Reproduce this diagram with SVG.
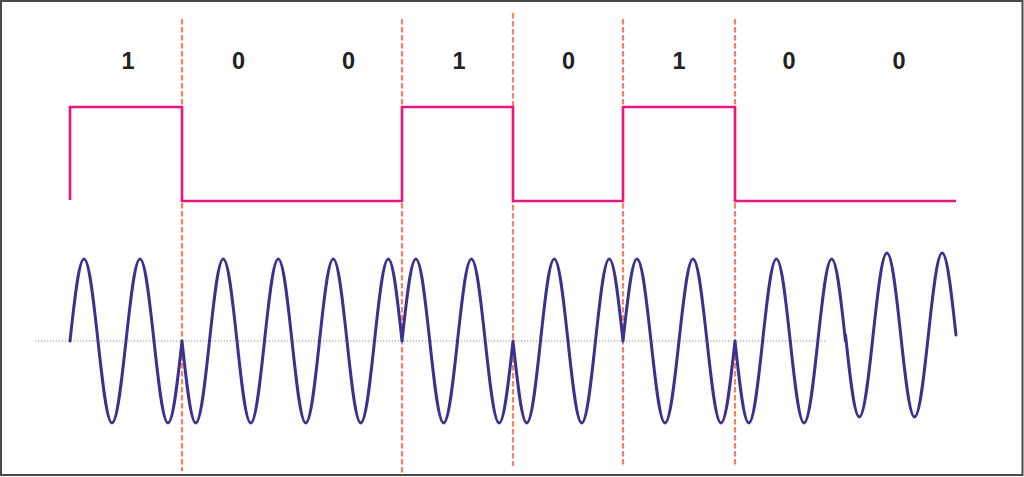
<svg xmlns="http://www.w3.org/2000/svg" width="1024" height="477" viewBox="0 0 1024 477">
<style>
.bit{font-family:"Liberation Sans",Arial,sans-serif;font-weight:bold;font-size:23.5px;fill:#222222;text-anchor:middle}
.sep{stroke:#f4845f;stroke-width:2.2;stroke-dasharray:5.5 2.5;fill:none}
.sq{stroke:#e6177f;stroke-width:2.6;fill:none}
.wave{stroke:#3b3290;stroke-width:3;fill:none;stroke-linejoin:round;stroke-linecap:round}
.axis{stroke:#8a8a8a;stroke-width:1.2;stroke-dasharray:1.2 1.8;fill:none}
</style>
<rect x="1" y="1" width="1021.5" height="474" fill="#ffffff" stroke="#4a4a4a" stroke-width="2"/>
<g id="bits">
<text class="bit" x="128" y="69">1</text>
<text class="bit" x="238.5" y="69">0</text>
<text class="bit" x="348.5" y="69">0</text>
<text class="bit" x="459" y="69">1</text>
<text class="bit" x="568.5" y="69">0</text>
<text class="bit" x="679" y="69">1</text>
<text class="bit" x="789" y="69">0</text>
<text class="bit" x="899" y="69">0</text>
</g>
<g id="separators">
<line class="sep" x1="182" y1="19" x2="182" y2="471"/>
<line class="sep" x1="402" y1="19" x2="402" y2="473"/>
<line class="sep" x1="513" y1="13" x2="513" y2="466"/>
<line class="sep" x1="623" y1="19" x2="623" y2="465"/>
<line class="sep" x1="735" y1="19" x2="735" y2="465"/>
</g>
<g id="digital-signal">
<path class="sq" d="M70,200 V107 H182 V201 H402 V107 H513 V201 H623 V107 H735 V201 H956"/>
</g>
<g id="axis">
<line class="axis" x1="35" y1="341" x2="825" y2="341"/>
</g>
<g id="modulated-signal">
<path class="wave" d="M70,341
c4.68,-43.06 8.96,-82 14,-82 s9.32,38.94 14,82 s8.96,82 14,82 s9.32,-38.94 14,-82 s8.96,-82 14,-82 s9.32,38.94 14,82 s8.96,82 14,82 s9.32,-38.94 14,-82
c4.6,43.06 8.8,82 13.75,82 s9.15,-38.94 13.75,-82 s8.8,-82 13.75,-82 s9.15,38.94 13.75,82
s8.8,82 13.75,82 s9.15,-38.94 13.75,-82 s8.8,-82 13.75,-82 s9.15,38.94 13.75,82
s8.8,82 13.75,82 s9.15,-38.94 13.75,-82 s8.8,-82 13.75,-82 s9.15,38.94 13.75,82
s8.8,82 13.75,82 s9.15,-38.94 13.75,-82 s8.8,-82 13.75,-82 s9.15,38.94 13.75,82
c4.64,-43.06 8.88,-82 13.875,-82 s9.24,38.94 13.875,82 s8.88,82 13.875,82 s9.24,-38.94 13.875,-82 s8.88,-82 13.875,-82 s9.24,38.94 13.875,82 s8.88,82 13.875,82 s9.24,-38.94 13.875,-82
c4.6,43.06 8.8,82 13.75,82 s9.15,-38.94 13.75,-82 s8.8,-82 13.75,-82 s9.15,38.94 13.75,82 s8.8,82 13.75,82 s9.15,-38.94 13.75,-82 s8.8,-82 13.75,-82 s9.15,38.94 13.75,82
c4.68,-43.06 8.96,-82 14,-82 s9.32,38.94 14,82 s8.96,82 14,82 s9.32,-38.94 14,-82 s8.96,-82 14,-82 s9.32,38.94 14,82 s8.96,82 14,82 s9.32,-38.94 14,-82
c4.62,43.06 8.84,82 13.81,82 s9.19,-38.94 13.81,-82 s8.84,-82 13.81,-82 s9.19,38.94 13.81,82 s8.84,82 13.81,82 s9.19,-38.94 13.81,-82 s8.84,-82 13.81,-82 s9.19,38.94 13.81,82
M845.5,335
c4.62,43.06 8.84,82 13.81,82 s9.19,-38.94 13.81,-82 s8.84,-82 13.81,-82 s9.19,38.94 13.81,82 s8.84,82 13.81,82 s9.19,-38.94 13.81,-82 s8.84,-82 13.81,-82 s9.19,38.94 13.81,82"/>
</g>
</svg>
